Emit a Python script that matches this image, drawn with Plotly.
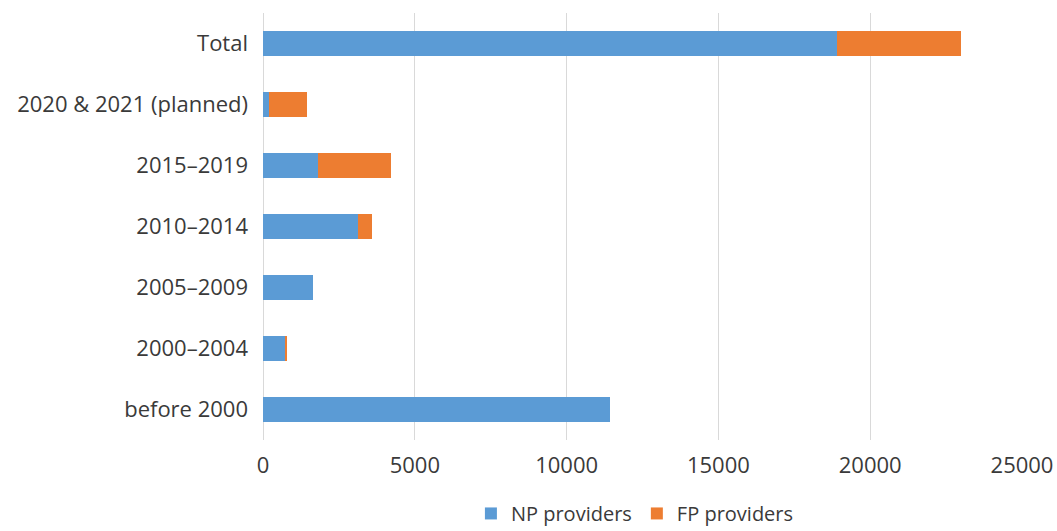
import plotly.graph_objects as go

categories = ["before 2000", "2000–2004", "2005–2009", "2010–2014",
              "2015–2019", "2020 & 2021 (planned)", "Total"]
np_providers = [11440, 725, 1650, 3120, 1800, 200, 18920]
fp_providers = [0, 33, 0, 472, 2417, 1250, 4087]

font_family = "Open Sans, Noto Sans, sans-serif"
text_color = "#3A3A3A"

fig = go.Figure()
fig.add_trace(go.Bar(y=categories, x=np_providers, orientation="h",
                     name="NP providers", marker=dict(color="#5B9BD5", line_width=0)))
fig.add_trace(go.Bar(y=categories, x=fp_providers, orientation="h",
                     name="FP providers", marker=dict(color="#ED7D31", line_width=0)))

fig.update_layout(
    barmode="stack",
    bargap=0.59,
    width=1057, height=531,
    margin=dict(l=263, r=35, t=13, b=91, autoexpand=False),
    plot_bgcolor="white", paper_bgcolor="white",
    font=dict(family=font_family, size=22, color=text_color),
    showlegend=True,
    legend=dict(orientation="h", x=0.49, xanchor="center", y=-0.172, yanchor="middle",
                font=dict(size=20, color=text_color), itemwidth=30,
                tracegroupgap=0, traceorder="normal"),
    xaxis=dict(range=[0, 25000], dtick=5000, showgrid=True, gridcolor="#D9D9D9",
               gridwidth=1, zeroline=True, zerolinecolor="#D9D9D9", zerolinewidth=1,
               showline=False, ticks="", tickfont=dict(size=22, color=text_color),
               ticklabelstandoff=10, tickformat="d"),
    yaxis=dict(showgrid=False, showline=False, ticks="", ticklabelstandoff=14,
               tickfont=dict(size=22, color=text_color)),
)

fig.write_html("out.html")
